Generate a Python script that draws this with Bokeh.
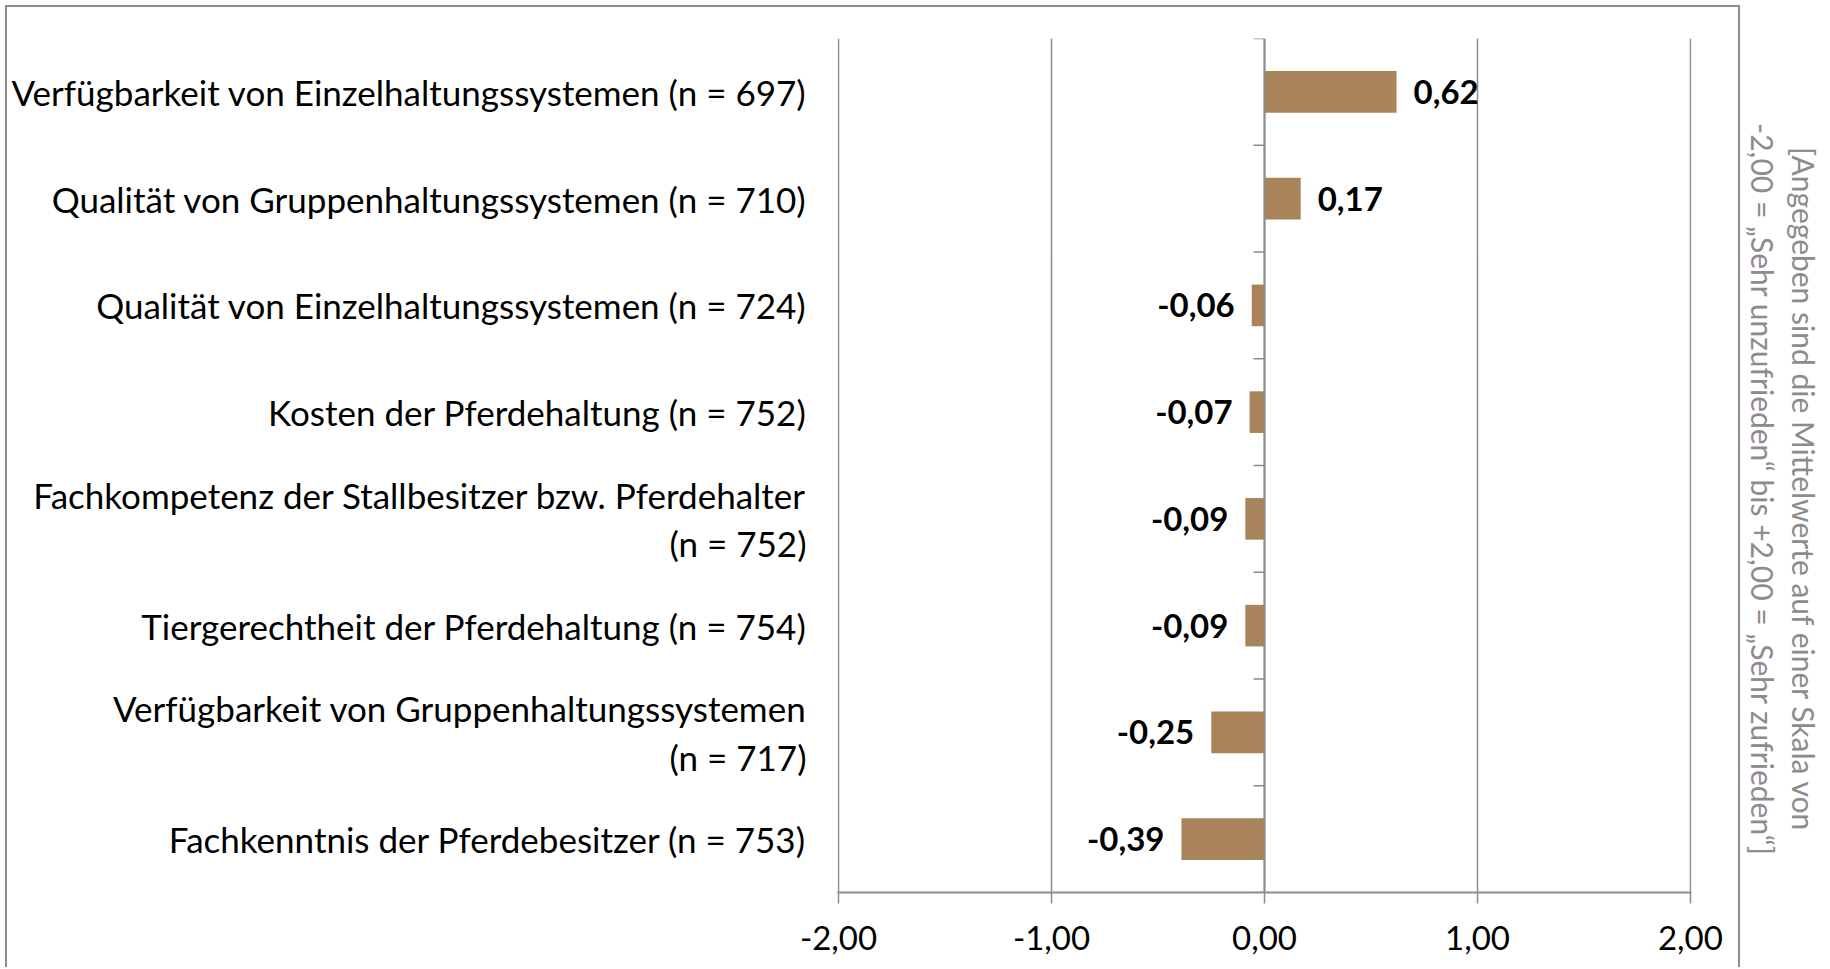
import math
from bokeh.plotting import figure
from bokeh.layouts import row
from bokeh.models import Range1d, FixedTicker, Label, ColumnDataSource, Span
from bokeh.embed import file_html
from bokeh.resources import INLINE
from bokeh.core.properties import value

# ---------------- data ----------------
categories = [
    "Verfügbarkeit von Einzelhaltungssystemen (n = 697)",
    "Qualität von Gruppenhaltungssystemen (n = 710)",
    "Qualität von Einzelhaltungssystemen (n = 724)",
    "Kosten der Pferdehaltung (n = 752)",
    "Fachkompetenz der Stallbesitzer bzw. Pferdehalter\n(n = 752)",
    "Tiergerechtheit der Pferdehaltung (n = 754)",
    "Verfügbarkeit von Gruppenhaltungssystemen\n(n = 717)",
    "Fachkenntnis der Pferdebesitzer (n = 753)",
]
values = [0.62, 0.17, -0.06, -0.07, -0.09, -0.09, -0.25, -0.39]
x_ticks = [-2, -1, 0, 1, 2]
x_tick_labels = ["-2,00", "-1,00", "0,00", "1,00", "2,00"]
note = ("[Angegeben sind die Mittelwerte auf einer Skala von\n"
        "-2,00 = \u201eSehr unzufrieden\u201c bis +2,00 = \u201eSehr zufrieden\u201c]")

# ---------------- styles ----------------
BAR = "#A9835A"
GREY = "#8c8c8c"
FONT = "Lato"

idx = list(range(len(categories)))
fmt = [f"{v:.2f}".replace(".", ",") for v in values]

p = figure(width=1735, height=962,
           x_range=Range1d(-2.005, 2.005),
           y_range=Range1d(len(categories) - 0.5, -0.5),
           output_backend="svg", toolbar_location=None,
           min_border_left=830, min_border_right=51,
           min_border_top=31, min_border_bottom=77)
p.margin = (5, 0, 0, 5)
p.styles = {"border-top": f"2px solid {GREY}",
            "border-left": f"2px solid {GREY}",
            "border-right": f"2px solid {GREY}"}
p.outline_line_color = None
p.background_fill_color = "white"
p.border_fill_color = "white"

# grid
p.xgrid.ticker = FixedTicker(ticks=x_ticks)
p.xgrid.grid_line_color = GREY
p.xgrid.grid_line_width = 1.5
p.ygrid.visible = False

# x axis
p.xaxis.ticker = FixedTicker(ticks=x_ticks)
p.xaxis.major_label_overrides = {t: l for t, l in zip(x_ticks, x_tick_labels)}
p.xaxis.axis_line_color = GREY
p.xaxis.axis_line_width = 2
p.xaxis.major_tick_line_color = GREY
p.xaxis.major_tick_line_width = 1.5
p.xaxis.major_tick_out = 11
p.xaxis.major_tick_in = 0
p.xaxis.minor_tick_line_color = None
p.xaxis.major_label_text_font = FONT
p.xaxis.major_label_text_font_size = "33px"
p.xaxis.major_label_text_color = "black"
p.xaxis.major_label_standoff = 22

# y axis (category labels)
p.yaxis.ticker = FixedTicker(ticks=idx)
p.yaxis.major_label_overrides = {i: c for i, c in zip(idx, categories)}
p.yaxis.axis_line_color = None
p.yaxis.major_tick_line_color = None
p.yaxis.minor_tick_line_color = None
p.yaxis.major_tick_out = 0
p.yaxis.major_tick_in = 0
p.yaxis.major_label_standoff = 31
p.yaxis.major_label_text_font = FONT
p.yaxis.major_label_text_font_size = "35px"
p.yaxis.major_label_text_color = "black"
p.yaxis.major_label_text_line_height = 1.15

# bars
src = ColumnDataSource(dict(y=idx, v=values, lab=fmt))
p.hbar(y="y", left=0, right="v", height=0.39, source=src,
       fill_color=BAR, line_color=None)

# vertical axis line at 0 with category-boundary ticks
p.add_layout(Span(location=0, dimension="height", line_color=GREY, line_width=2))
bounds = [i - 0.5 for i in range(len(categories) + 1)]
tick_len = 11 / 213.0
p.segment(x0=[-tick_len] * len(bounds), x1=[0] * len(bounds), y0=bounds, y1=bounds,
          line_color=GREY, line_width=1.5)

# value labels
pos = dict(x=[v for v in values if v >= 0], y=[i for i, v in zip(idx, values) if v >= 0],
           t=[f for f, v in zip(fmt, values) if v >= 0])
neg = dict(x=[v for v in values if v < 0], y=[i for i, v in zip(idx, values) if v < 0],
           t=[f for f, v in zip(fmt, values) if v < 0])
p.text(x="x", y="y", text="t", source=ColumnDataSource(pos), x_offset=17,
       text_align="left", text_baseline="middle", text_font=value(FONT),
       text_font_style="bold", text_font_size="33px", text_color="black")
p.text(x="x", y="y", text="t", source=ColumnDataSource(neg), x_offset=-17,
       text_align="right", text_baseline="middle", text_font=value(FONT),
       text_font_style="bold", text_font_size="33px", text_color="black")

# side note (rotated) in a narrow companion figure
p2 = figure(width=85, height=962, x_range=Range1d(0, 85), y_range=Range1d(962, 0),
            x_axis_type=None, y_axis_type=None, min_border=0,
            output_backend="svg", toolbar_location=None)
p2.outline_line_color = None
p2.add_layout(Label(x=43, y=516, text=note, angle=-math.pi / 2,
                    text_align="center", text_baseline="middle",
                    text_font=FONT, text_font_size="30px", text_color=GREY,
                    text_line_height=1.12))

layout = row(p, p2)
open("out.html", "w").write(file_html(layout, INLINE))
